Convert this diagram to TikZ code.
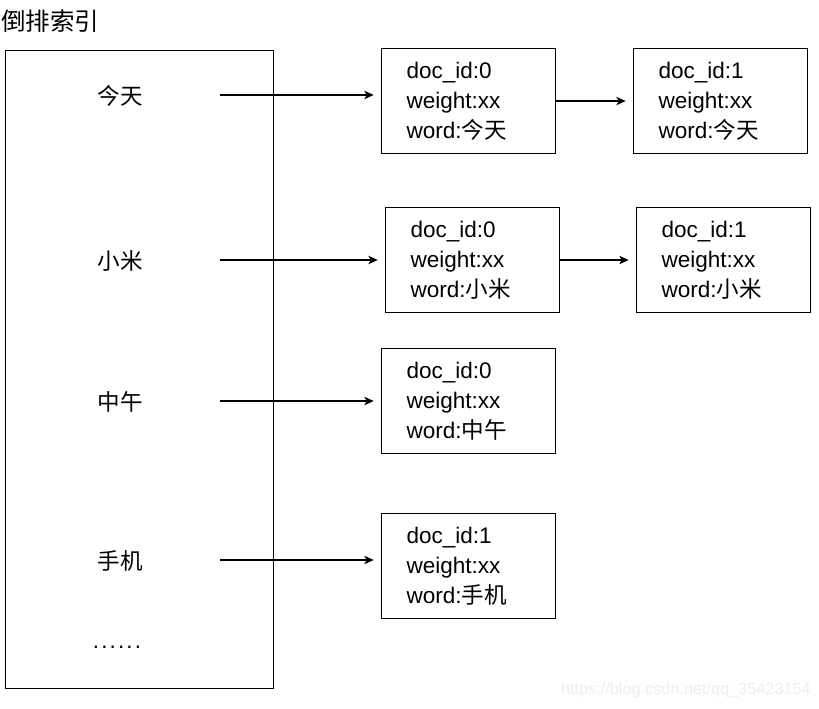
\documentclass[tikz,border=0pt]{standalone}
\usepackage{fontspec}
\setmainfont{Liberation Sans}
\newfontfamily\cjk{Noto Sans CJK SC}
\usetikzlibrary{arrows.meta}
\begin{document}
\begin{tikzpicture}[x=0.75pt,y=-0.75pt,
  docbox/.style={draw, line width=0.8pt, minimum width=130.5pt, minimum height=78.75pt,
    inner xsep=18.75pt, text width=93pt, align=left,
    font=\fontsize{16.9pt}{22.5pt}\selectfont},
  term/.style={font=\cjk\fontsize{16.9pt}{20pt}\selectfont},
  arr/.style={-{Stealth[length=7pt,width=6.3pt,inset=1.8pt]}, line width=0.8pt, shorten >=5.5pt}]
\useasboundingbox (0,0) rectangle (819,709);
% title
\node[font=\cjk\fontsize{18.4pt}{20pt}\selectfont, anchor=west, inner sep=0pt] (title) at (1,21) {倒排索引};
% index box
\node[draw, line width=0.9pt, minimum width=201pt, minimum height=478.5pt, anchor=north west, inner sep=0pt] (idx) at (5,50) {};
\node[term] (t1) at (120,96) {今天};
\node[term] (t2) at (120,261) {小米};
\node[term] (t3) at (120,402) {中午};
\node[term] (t4) at (120,561) {手机};
\node[font=\fontsize{16.9pt}{20pt}\selectfont, inner sep=0pt, anchor=base] (dots) at (117,649) {.\kern1.6pt.\kern1.6pt.\kern1.6pt.\kern1.6pt.\kern1.6pt.};
% doc boxes
\node[docbox, anchor=north west] (b1a) at (381,48) {doc\_id:0\\weight:xx\\word:{\cjk 今天}};
\node[docbox, anchor=north west] (b1b) at (633,48) {doc\_id:1\\weight:xx\\word:{\cjk 今天}};
\node[docbox, anchor=north west] (b2a) at (385,207) {doc\_id:0\\weight:xx\\word:{\cjk 小米}};
\node[docbox, anchor=north west] (b2b) at (636,207) {doc\_id:1\\weight:xx\\word:{\cjk 小米}};
\node[docbox, anchor=north west] (b3a) at (381,348) {doc\_id:0\\weight:xx\\word:{\cjk 中午}};
\node[docbox, anchor=north west] (b4a) at (381,513) {doc\_id:1\\weight:xx\\word:{\cjk 手机}};
% arrow starts
\coordinate (s1) at (220,95);
\coordinate (s2) at (220,260);
\coordinate (s3) at (220,401);
\coordinate (s4) at (220,560);
\draw[arr] (s1) -- (s1 -| b1a.west);
\draw[arr] (s2) -- (s2 -| b2a.west);
\draw[arr] (s3) -- (s3 -| b3a.west);
\draw[arr] (s4) -- (s4 -| b4a.west);
\draw[arr] (b1a.east) -- (b1b.west);
\draw[arr] (b2a.east) -- (b2b.west);
% watermark
\node[text=black!7, font=\fontsize{12.2pt}{14pt}\selectfont, anchor=east, inner sep=0pt] (wm) at (811,690) {https://blog.csdn.net/qq\_35423154};
\end{tikzpicture}
\end{document}
